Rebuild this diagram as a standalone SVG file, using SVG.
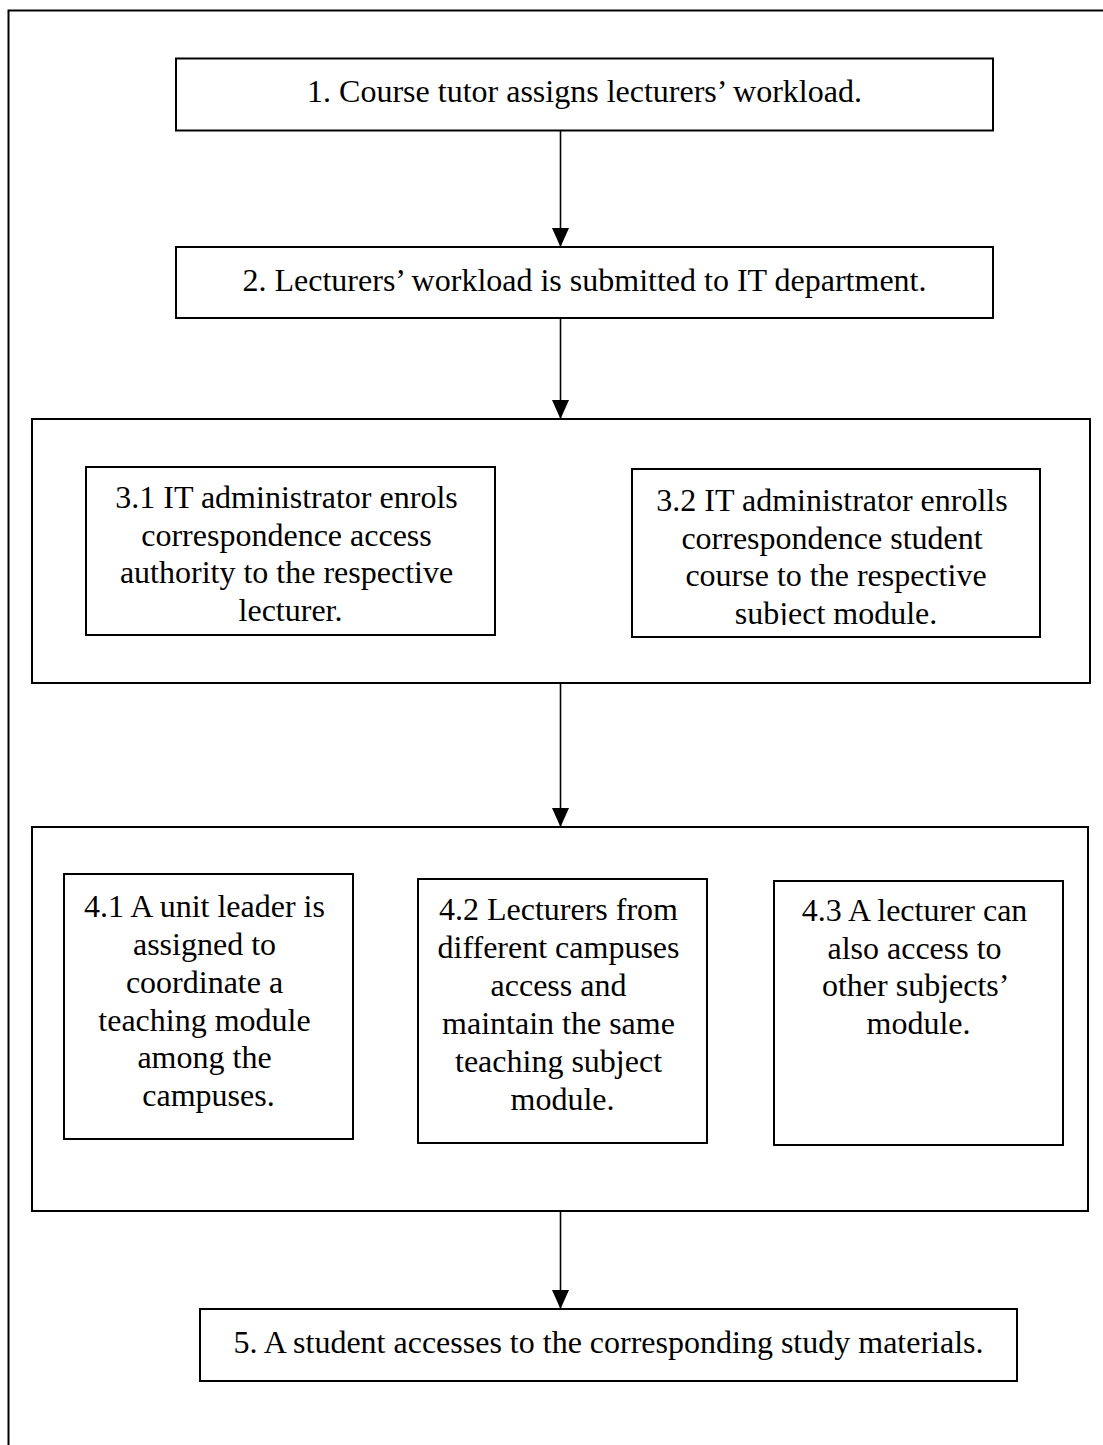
<svg xmlns="http://www.w3.org/2000/svg" width="1103" height="1445" viewBox="0 0 1103 1445">
  <style>
    .box { fill: #ffffff; stroke: #000000; stroke-width: 2; }
    .frame { fill: none; stroke: #000000; stroke-width: 2; }
    .lbl { font-family: "Liberation Serif", "Times New Roman", serif; font-size: 32px; fill: #000000; text-anchor: middle; }
    .edge { stroke: #000000; stroke-width: 1.6; fill: none; marker-end: url(#head); }
  </style>
  <defs>
    <marker id="head" markerUnits="userSpaceOnUse" markerWidth="20" markerHeight="18" refX="19" refY="8.5" orient="auto">
      <path d="M0,0 L19,8.5 L0,17 Z" fill="#000000"/>
    </marker>
    <!-- the last line of 3.2 is cut at its baseline by the text area -->
    <clipPath id="cut32">
      <rect x="632" y="590" width="408" height="35"/>
    </clipPath>
  </defs>

  <rect width="1103" height="1445" fill="#ffffff"/>

  <!-- page frame, running off the right and bottom edges -->
  <path class="frame" d="M8.5,1445 V10.5 H1103"/>

  <g id="step1">
    <rect class="box" x="176" y="58.5" width="817" height="72"/>
    <text class="lbl" x="584.5" y="102">1. Course tutor assigns lecturers’ workload.</text>
  </g>

  <g id="step2">
    <rect class="box" x="176" y="247" width="817" height="71"/>
    <text class="lbl" x="584.5" y="290.5">2. Lecturers’ workload is submitted to IT department.</text>
  </g>

  <g id="step3">
    <rect class="box" x="32" y="419" width="1058" height="264"/>
    <g id="step3-1">
      <rect class="box" x="86" y="467" width="409" height="168"/>
      <text class="lbl" x="290.5">
        <tspan x="290.5" y="508">3.1 IT administrator enrols</tspan>
        <tspan x="290.5" y="545.5">correspondence access</tspan>
        <tspan x="290.5" y="583">authority to the respective</tspan>
        <tspan x="290.5" y="620.5">lecturer.</tspan>
      </text>
    </g>
    <g id="step3-2">
      <rect class="box" x="632" y="469" width="408" height="168"/>
      <text class="lbl" x="836">
        <tspan x="836" y="511">3.2 IT administrator enrolls</tspan>
        <tspan x="836" y="548.5">correspondence student</tspan>
        <tspan x="836" y="586">course to the respective</tspan>
      </text>
      <text class="lbl" x="836" y="623.5" clip-path="url(#cut32)">subject module.</text>
    </g>
  </g>

  <g id="step4">
    <rect class="box" x="32" y="827" width="1056" height="384"/>
    <g id="step4-1">
      <rect class="box" x="64" y="874" width="289" height="265"/>
      <text class="lbl" x="208.5">
        <tspan x="208.5" y="917">4.1 A unit leader is</tspan>
        <tspan x="208.5" y="955">assigned to</tspan>
        <tspan x="208.5" y="993">coordinate a</tspan>
        <tspan x="208.5" y="1030.5">teaching module</tspan>
        <tspan x="208.5" y="1068">among the</tspan>
        <tspan x="208.5" y="1106">campuses.</tspan>
      </text>
    </g>
    <g id="step4-2">
      <rect class="box" x="418" y="879" width="289" height="264"/>
      <text class="lbl" x="562.5">
        <tspan x="562.5" y="920">4.2 Lecturers from</tspan>
        <tspan x="562.5" y="958">different campuses</tspan>
        <tspan x="562.5" y="996">access and</tspan>
        <tspan x="562.5" y="1034">maintain the same</tspan>
        <tspan x="562.5" y="1072">teaching subject</tspan>
        <tspan x="562.5" y="1110">module.</tspan>
      </text>
    </g>
    <g id="step4-3">
      <rect class="box" x="774" y="881" width="289" height="264"/>
      <text class="lbl" x="918.5">
        <tspan x="918.5" y="921">4.3 A lecturer can</tspan>
        <tspan x="918.5" y="958.5">also access to</tspan>
        <tspan x="918.5" y="996">other subjects’</tspan>
        <tspan x="918.5" y="1033.5">module.</tspan>
      </text>
    </g>
  </g>

  <g id="step5">
    <rect class="box" x="200" y="1309" width="817" height="72"/>
    <text class="lbl" x="608.5" y="1353">5. A student accesses to the corresponding study materials.</text>
  </g>

  <g id="connectors">
    <line class="edge" x1="560.5" y1="130.5" x2="560.5" y2="247"/>
    <line class="edge" x1="560.5" y1="318" x2="560.5" y2="419"/>
    <line class="edge" x1="560.5" y1="683" x2="560.5" y2="827"/>
    <line class="edge" x1="560.5" y1="1211" x2="560.5" y2="1309"/>
  </g>
</svg>
